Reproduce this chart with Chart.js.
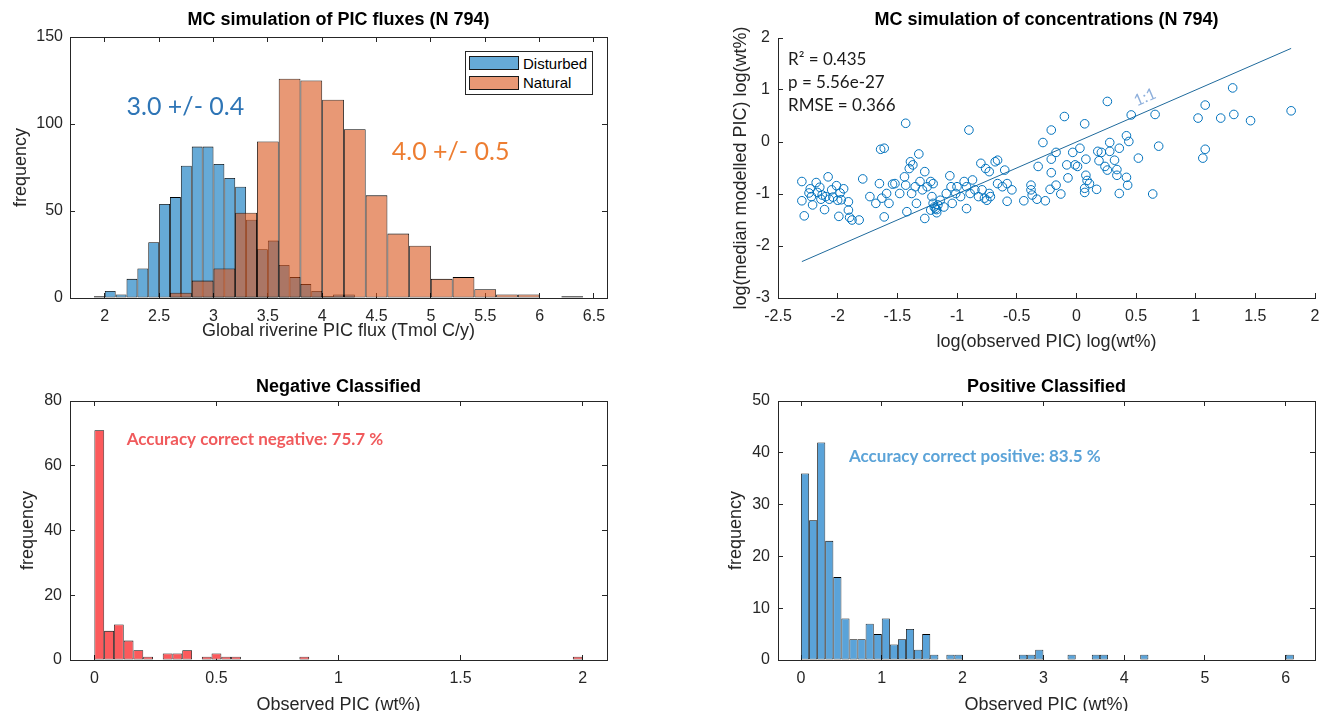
<!DOCTYPE html>
<html>
<head>
<meta charset="utf-8">
<script src="https://cdn.jsdelivr.net/npm/chart.js@4.4.1/dist/chart.umd.min.js"></script>
<style>
  html, body { margin: 0; padding: 0; background: #fff; overflow: hidden; width: 1321px; height: 711px; }
  .panel { position: absolute; }
  .panel canvas { display: block; }
  #legend1 { position: absolute; left: 465px; top: 51px; width: 126px; height: 42px; border: 1px solid #262626; background: #fff;
             font: 15px 'Liberation Sans', Arial, Helvetica, sans-serif; color: #000; }
  #legend1 .sw { position: absolute; left: 3px; width: 48px; height: 12px; border: 1px solid #1a1a1a; }
  #legend1 .lb { position: absolute; left: 57px; line-height: 18px; white-space: nowrap; }
</style>
</head>
<body>
<div class="panel" style="left:0;top:0;"><canvas id="c1" width="620" height="345"></canvas></div>
<div class="panel" style="left:700px;top:0;"><canvas id="c2" width="621" height="360"></canvas></div>
<div class="panel" style="left:0;top:365px;"><canvas id="c3" width="620" height="356"></canvas></div>
<div class="panel" style="left:700px;top:365px;"><canvas id="c4" width="621" height="356"></canvas></div>
<div id="legend1"></div>
<script>
// ---------------- DATA ----------------
// Panel 1: MC simulation of PIC fluxes (histogram counts per bin)
const disturbedBinStart = 1.9, disturbedBinWidth = 0.1;
const disturbedCounts = [1, 4, 2, 11, 17, 32, 54, 58, 76, 87, 87, 77, 69, 64, 45, 28, 33, 19, 12, 8, 4, 1, 2, 2];
const naturalBinStart = 2.6, naturalBinWidth = 0.2;
const naturalCounts = [3, 10, 17, 49, 90, 126, 125, 114, 97, 59, 37, 30, 11, 12, 5, 2, 2, 0, 1];
const fluxXTicks = [2, 2.5, 3, 3.5, 4, 4.5, 5, 5.5, 6, 6.5];
const fluxYTicks = [0, 50, 100, 150];

// Panel 2: MC simulation of concentrations (log observed vs log median modelled)
const obsLog = [
  -2.30,-2.30,-2.28,-2.24,-2.23,-2.22,-2.21,-2.18,-2.17,-2.15,-2.14,-2.13,-2.11,-2.10,-2.08,-2.07,-2.05,-2.04,-2.01,-2.00,
  -1.98,-1.99,-1.97,-1.95,-1.91,-1.91,-1.90,-1.88,-1.82,-1.79,
  -1.73,-1.68,-1.65,-1.64,-1.61,-1.63,-1.61,-1.59,-1.57,-1.54,-1.52,-1.48,-1.44,-1.43,-1.43,-1.42,-1.40,-1.39,-1.37,-1.38,
  -1.35,-1.34,-1.32,-1.31,-1.29,-1.27,-1.27,-1.25,-1.22,-1.21,-1.20,-1.18,-1.17,-1.16,-1.20,-1.22,-1.14,-1.11,-1.19,-1.17,
  -1.09,-1.06,-1.05,-1.04,-1.01,-1.00,-0.97,-0.94,-0.92,-0.92,-0.90,-0.89,-0.87,-0.85,-0.82,-0.79,-0.80,-0.76,-0.75,-0.73,
  -0.73,-0.68,-0.66,-0.66,-0.62,-0.60,-0.58,-0.58,-0.54,-0.72,-0.77,
  -0.44,-0.38,-0.38,-0.37,-0.33,-0.32,-0.28,-0.26,-0.21,-0.21,-0.21,-0.22,-0.17,-0.17,-0.13,-0.10,-0.08,-0.07,-0.03,-0.01,
  0.01,0.03,0.07,0.08,0.08,0.09,0.07,0.07,0.11,0.17,0.18,0.19,0.21,0.24,0.26,0.28,0.28,0.26,0.32,0.34,
  0.34,0.36,0.36,0.42,0.44,0.42,0.43,0.46,0.52,0.64,0.66,0.69,1.02,1.08,1.08,1.06,1.21,1.31,1.32,1.46,1.80
];
const modLog = [
  -0.76,-1.13,-1.42,-0.98,-0.90,-1.05,-1.21,-0.78,-0.97,-0.87,-1.10,-1.02,-1.30,-1.05,-0.67,-1.10,-0.92,-1.06,-0.84,-1.12,
  -0.98,-1.43,-1.11,-0.90,-1.15,-1.31,-1.45,-1.50,-1.50,-0.71,
  -1.05,-1.18,-0.80,-0.14,-0.12,-1.08,-1.44,-0.99,-1.18,-0.81,-0.80,-0.99,-0.67,-0.83,0.36,-1.34,-0.51,-0.38,-0.44,-0.99,
  -0.86,-1.18,-0.23,-0.76,-0.92,-0.57,-1.47,-0.86,-0.76,-1.05,-1.18,-1.28,-1.36,-1.21,-0.80,-1.31,-1.12,-1.25,-1.25,-1.30,
  -0.99,-0.65,-0.86,-1.18,-0.99,-0.86,-1.05,-0.76,-1.28,-0.86,0.23,-0.99,-0.73,-0.92,-1.05,-0.92,-0.41,-0.51,-1.12,-0.57,
  -0.99,-0.38,-0.35,-0.80,-0.86,-0.54,-0.80,-1.14,-0.92,-1.05,-1.08,
  -1.13,-0.83,-0.92,-1.02,-1.10,-0.47,-0.01,-1.13,0.23,-0.33,-0.59,-0.91,-0.20,-0.83,-1.00,0.49,-0.44,-0.69,-0.20,-0.44,
  -0.47,-0.12,0.35,-0.33,-0.64,-0.74,-0.89,-0.97,-0.80,-0.91,-0.18,-0.36,-0.20,-0.47,0.78,-0.01,-0.18,-0.54,-0.35,-0.53,
  -0.64,-0.99,-0.12,0.12,0.01,-0.68,-0.83,0.52,-0.31,-1.00,0.53,-0.08,0.46,0.71,-0.14,-0.31,0.46,1.04,0.53,0.41,0.60
];
const oneToOneRange = [-2.3, 1.8];
const concXTicks = [-2.5, -2, -1.5, -1, -0.5, 0, 0.5, 1, 1.5, 2];
const concYTicks = [-3, -2, -1, 0, 1, 2];
const statsLines = ['R\u00B2 = 0.435', 'p = 5.56e-27', 'RMSE = 0.366'];

// Panel 3: Negative classified (observed PIC histogram)
const negBinStart = 0, negBinWidth = 0.04;
const negativeCounts = [71, 9, 11, 6, 3, 1, 0, 2, 2, 3, 0, 1, 2, 1, 1, 0, 0, 0, 0, 0, 0, 1, 0, 0, 0,
                        0, 0, 0, 0, 0, 0, 0, 0, 0, 0, 0, 0, 0, 0, 0, 0, 0, 0, 0, 0, 0, 0, 0, 0, 1];
const negXTicks = [0, 0.5, 1, 1.5, 2];
const negYTicks = [0, 20, 40, 60, 80];

// Panel 4: Positive classified (observed PIC histogram)
const posBinStart = 0, posBinWidth = 0.1;
const positiveCounts = [36, 27, 42, 23, 16, 8, 4, 4, 7, 5, 8, 3, 4, 6, 2, 5, 1, 0, 1, 1,
                        0, 0, 0, 0, 0, 0, 0, 1, 1, 2, 0, 0, 0, 1, 0, 0, 1, 1, 0, 0,
                        0, 0, 1, 0, 0, 0, 0, 0, 0, 0, 0, 0, 0, 0, 0, 0, 0, 0, 0, 0, 1];
const posXTicks = [0, 1, 2, 3, 4, 5, 6];
const posYTicks = [0, 10, 20, 30, 40, 50];

// ---------------- HELPERS ----------------
const AX = '#262626';
const EDGE = '#000000';
const FONT = "'Liberation Sans', Arial, Helvetica, sans-serif";
const NOTE_FONT = "Lato, 'Open Sans', sans-serif";
const tickFont = { family: FONT, size: 16 };
const labelFont = { family: FONT, size: 18 };

function binsToBars(start, width, counts) {
  return counts.map((c, i) => ({ x: +(start + (i + 0.5) * width).toFixed(4), y: c })).filter(p => p.y > 0);
}
function fixSize(prop, val) {
  return s => { s[prop] = val; s.paddingLeft = 0; s.paddingRight = 0; s.paddingTop = 0; s.paddingBottom = 0; };
}
function useTicks(vals) { return s => { s.ticks = vals.map(v => ({ value: v })); }; }
const tickText = v => String(v);

function bottomAxis(min, max, ticks, title, h, titlePadBottom) {
  return { type: 'linear', position: 'bottom', min, max, offset: false,
    afterBuildTicks: useTicks(ticks), afterFit: fixSize('height', h),
    grid: { offset: false, drawOnChartArea: false, drawTicks: true, tickLength: -5, color: AX, lineWidth: 1 },
    border: { display: true, color: AX, width: 1 },
    ticks: { color: AX, font: tickFont, padding: 14, maxRotation: 0, autoSkip: false, callback: tickText },
    title: { display: true, text: title, color: AX, font: labelFont, padding: { top: 0, bottom: titlePadBottom } } };
}
function leftAxis(min, max, ticks, title, w, tickPad, titlePadTop) {
  return { type: 'linear', position: 'left', min, max, beginAtZero: false,
    afterBuildTicks: useTicks(ticks), afterFit: fixSize('width', w),
    grid: { drawOnChartArea: false, drawTicks: true, tickLength: -5, color: AX, lineWidth: 1 },
    border: { display: true, color: AX, width: 1 },
    ticks: { color: AX, font: tickFont, padding: tickPad, autoSkip: false, callback: tickText },
    title: { display: true, text: title, color: AX, font: labelFont, padding: { top: titlePadTop, bottom: 0 } } };
}
function topAxis(min, max, ticks, title, h, titlePadTop, box) {
  return { type: 'linear', position: 'top', min, max, offset: false,
    afterBuildTicks: useTicks(ticks), afterFit: fixSize('height', h),
    grid: { display: box, offset: false, drawOnChartArea: false, drawTicks: true, tickLength: -5, color: AX, lineWidth: 1 },
    border: { display: box, color: AX, width: 1 },
    ticks: { display: false },
    title: { display: true, text: title, color: '#000', font: { family: FONT, size: 18, weight: 'bold' }, padding: { top: titlePadTop, bottom: 0 } } };
}
function rightAxis(min, max, ticks) {
  return { type: 'linear', position: 'right', min, max,
    afterBuildTicks: useTicks(ticks), afterFit: fixSize('width', 0),
    grid: { drawOnChartArea: false, drawTicks: true, tickLength: -5, color: AX, lineWidth: 1 },
    border: { display: true, color: AX, width: 1 },
    ticks: { display: false } };
}

// Text notes positioned through the chart's own scales
const notesPlugin = {
  id: 'notes',
  afterDatasetsDraw(chart, args, opts) {
    const { ctx } = chart;
    const xs = chart.scales.x, ys = chart.scales.y;
    (opts.items || []).forEach(it => {
      ctx.save();
      ctx.font = it.font;
      ctx.fillStyle = it.color;
      ctx.textAlign = it.align || 'left';
      ctx.textBaseline = 'middle';
      const px = xs.getPixelForValue(it.x), py = ys.getPixelForValue(it.y);
      ctx.translate(px, py);
      if (it.along) {
        const [a, b] = it.along;
        const ang = Math.atan2(ys.getPixelForValue(b) - ys.getPixelForValue(a), xs.getPixelForValue(b) - xs.getPixelForValue(a));
        ctx.rotate(ang);
      }
      ctx.fillText(it.text, 0, 0);
      ctx.restore();
    });
  }
};

const baseOptions = (padRight) => ({
  responsive: false, animation: false, devicePixelRatio: 1,
  layout: { padding: { left: 0, right: padRight, top: 0, bottom: 0 } },
  events: [],
  plugins: { legend: { display: false }, tooltip: { enabled: false }, title: { display: false } }
});

const barStyle = { borderColor: EDGE, borderWidth: 0.8, borderSkipped: false, grouped: false, categoryPercentage: 1, inflateAmount: 0 };

// ---------------- PANEL 1 ----------------
const chart1 = new Chart(document.getElementById('c1'), {
  type: 'bar',
  data: { datasets: [
    Object.assign({ label: 'Disturbed', data: binsToBars(disturbedBinStart, disturbedBinWidth, disturbedCounts),
      backgroundColor: 'rgba(0,114,189,0.6)', barPercentage: 2, order: 1 }, barStyle),
    Object.assign({ label: 'Natural', data: binsToBars(naturalBinStart, naturalBinWidth, naturalCounts),
      backgroundColor: 'rgba(217,83,25,0.6)', barPercentage: 4, order: 0 }, barStyle)
  ] },
  options: Object.assign(baseOptions(13), {
    scales: {
      x: bottomAxis(1.68, 6.62, fluxXTicks, 'Global riverine PIC flux (Tmol C/y)', 47, 3),
      y: leftAxis(0, 150, fluxYTicks, 'frequency', 70, 12, 10),
      x2: topAxis(1.68, 6.62, fluxXTicks, 'MC simulation of PIC fluxes (N 794)', 37, 9, true),
      y2: rightAxis(0, 150, fluxYTicks)
    },
    plugins: { legend: { display: false }, tooltip: { enabled: false },
      notes: { items: [
        { text: '3.0 +/- 0.4', x: 2.2, y: 110, color: '#2E75B6', font: "25px " + NOTE_FONT },
        { text: '4.0 +/- 0.5', x: 4.64, y: 84, color: '#ED7D31', font: "25px " + NOTE_FONT }
      ] } }
  }),
  plugins: [notesPlugin]
});

// legend built from the chart's datasets
(function () {
  const box = document.getElementById('legend1');
  chart1.data.datasets.forEach((ds, i) => {
    const sw = document.createElement('div');
    sw.className = 'sw'; sw.style.top = (4 + i * 20) + 'px'; sw.style.background = ds.backgroundColor;
    const lb = document.createElement('div');
    lb.className = 'lb'; lb.style.top = (3 + i * 19) + 'px'; lb.textContent = ds.label;
    box.appendChild(sw); box.appendChild(lb);
  });
})();

// ---------------- PANEL 2 ----------------
new Chart(document.getElementById('c2'), {
  type: 'scatter',
  data: { datasets: [
    { label: 'MC', data: obsLog.map((v, i) => ({ x: v, y: modLog[i] })), showLine: false,
      pointRadius: 4.3, pointBackgroundColor: 'rgba(0,0,0,0)', pointBorderColor: '#0072BD', pointBorderWidth: 1 },
    { type: 'line', label: '1:1', data: oneToOneRange.map(v => ({ x: v, y: v })), showLine: true, fill: false,
      borderColor: '#1f6a9c', borderWidth: 1, pointRadius: 0 }
  ] },
  options: Object.assign(baseOptions(6), {
    scales: {
      x: bottomAxis(-2.5, 2, concXTicks, 'log(observed PIC) log(wt%)', 62, 7),
      y: leftAxis(-3, 2, concYTicks, 'log(median modelled PIC) log(wt%)', 78, 13, 30),
      x2: topAxis(-2.5, 2, concXTicks, 'MC simulation of concentrations (N 794)', 38, 9, false)
    },
    plugins: { legend: { display: false }, tooltip: { enabled: false },
      notes: { items: [
        { text: statsLines[0], x: -2.416, y: 1.58, color: '#1a1a1a', font: "17px " + NOTE_FONT },
        { text: statsLines[1], x: -2.416, y: 1.14, color: '#1a1a1a', font: "17px " + NOTE_FONT },
        { text: statsLines[2], x: -2.416, y: 0.71, color: '#1a1a1a', font: "17px " + NOTE_FONT },
        { text: '1:1', x: 0.575, y: 0.86, color: '#8fb0dc', font: "16px " + NOTE_FONT, align: 'center', along: oneToOneRange }
      ] } }
  }),
  plugins: [notesPlugin]
});

// ---------------- PANEL 3 ----------------
new Chart(document.getElementById('c3'), {
  type: 'bar',
  data: { datasets: [
    Object.assign({ label: 'Negative', data: binsToBars(negBinStart, negBinWidth, negativeCounts),
      backgroundColor: '#FC5A5C', barPercentage: 1 }, barStyle)
  ] },
  options: Object.assign(baseOptions(13), {
    scales: {
      x: bottomAxis(-0.1, 2.1, negXTicks, 'Observed PIC (wt%)', 61, 5),
      y: leftAxis(0, 80, negYTicks, 'frequency', 70, 13, 17),
      x2: topAxis(-0.1, 2.1, negXTicks, 'Negative Classified', 36, 11, true),
      y2: rightAxis(0, 80, negYTicks)
    },
    plugins: { legend: { display: false }, tooltip: { enabled: false },
      notes: { items: [
        { text: 'Accuracy correct negative: 75.7 %', x: 0.132, y: 68, color: '#F05A5C', font: "bold 17px " + NOTE_FONT }
      ] } }
  }),
  plugins: [notesPlugin]
});

// ---------------- PANEL 4 ----------------
new Chart(document.getElementById('c4'), {
  type: 'bar',
  data: { datasets: [
    Object.assign({ label: 'Positive', data: binsToBars(posBinStart, posBinWidth, positiveCounts),
      backgroundColor: '#5AA3D9', barPercentage: 1 }, barStyle)
  ] },
  options: Object.assign(baseOptions(6), {
    scales: {
      x: bottomAxis(-0.285, 6.363, posXTicks, 'Observed PIC (wt%)', 61, 5),
      y: leftAxis(0, 50, posYTicks, 'frequency', 78, 13, 25),
      x2: topAxis(-0.285, 6.363, posXTicks, 'Positive Classified', 36, 11, true),
      y2: rightAxis(0, 50, posYTicks)
    },
    plugins: { legend: { display: false }, tooltip: { enabled: false },
      notes: { items: [
        { text: 'Accuracy correct positive: 83.5 %', x: 0.594, y: 39.3, color: '#5BA3D8', font: "bold 17px " + NOTE_FONT }
      ] } }
  }),
  plugins: [notesPlugin]
});
</script>
</body>
</html>
